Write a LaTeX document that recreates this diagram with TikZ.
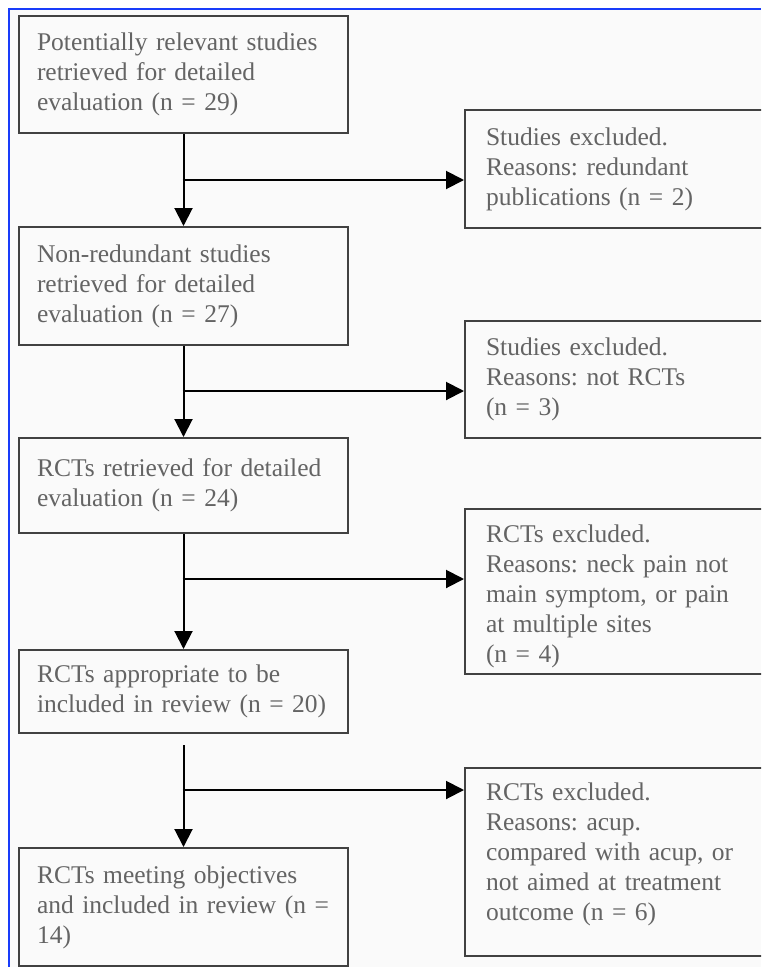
\documentclass[tikz,border=0pt]{standalone}
\usepackage{fontspec}
\setmainfont{Liberation Serif}
\usetikzlibrary{arrows.meta}
\definecolor{pagebg}{RGB}{250,250,250}
\definecolor{frameblue}{RGB}{25,60,250}
\definecolor{txtgray}{RGB}{100,100,100}
\definecolor{boxline}{RGB}{65,65,65}
\frenchspacing

\begin{document}
\begin{tikzpicture}[
  x=1pt, y=-1pt,
  font=\fontsize{25.5}{30}\selectfont,
  box/.style={rectangle, draw=boxline, line width=2pt, anchor=north west,
              align=left, text=txtgray, inner ysep=0pt},
  lft/.style={box, text width=293pt, inner xsep=18pt},
  rgt/.style={box, text width=262pt, inner xsep=21pt},
  arr/.style={-{Triangle[length=18pt,width=18pt]}, draw=black, line width=2pt}
]
\clip (0,0) rectangle (761,967);
\fill[white] (0,0) rectangle (761,967);
\fill[pagebg] (9,9) rectangle (761,967);
\draw[frameblue, line width=2.5pt] (9,967) -- (9,9) -- (761,9);

% main column
\node[lft, minimum height=117pt] (b1) at (18,15)
  {Potentially relevant studies\\retrieved for detailed\\evaluation (n = 29)};
\node[lft, minimum height=118pt] (b2) at (18,226)
  {Non-redundant studies\\retrieved for detailed\\evaluation (n = 27)};
\node[lft, minimum height=95pt] (b3) at (18,437)
  {RCTs retrieved for detailed\\evaluation (n = 24)};
\node[lft, minimum height=83pt] (b4) at (18,649)
  {RCTs appropriate to be\\included in review (n = 20)};
\node[lft, minimum height=118pt] (b5) at (18,847)
  {RCTs meeting objectives\\and included in review (n =\\14)};

% exclusions
\node[rgt, minimum height=118pt] (r1) at (464,109)
  {Studies excluded.\\Reasons: redundant\\publications (n = 2)};
\node[rgt, minimum height=117pt] (r2) at (464,320)
  {Studies excluded.\\Reasons: not RCTs\\(n = 3)};
\node[rgt, minimum height=165pt, text height=28pt] (r3) at (464,508)
  {RCTs excluded.\\Reasons: neck pain not\\main symptom, or pain\\at multiple sites\\(n = 4)};
\node[rgt, minimum height=188pt, text depth=140pt] (r4) at (464,767)
  {RCTs excluded.\\Reasons: acup.\\compared with acup, or\\not aimed at treatment\\outcome (n = 6)};

\coordinate (j1) at (182.5,180);
\coordinate (j2) at (182.5,391);
\coordinate (j3) at (182.5,579);
\coordinate (j4) at (182.5,790);

\draw[arr] (b1.south) -- (b2.north);
\draw[arr] (b2.south) -- (b3.north);
\draw[arr] (b3.south) -- (b4.north);
\draw[arr] ([yshift=-11pt]b4.south) -- (b5.north);

\draw[arr] (j1) -- (j1 -| r1.west);
\draw[arr] (j2) -- (j2 -| r2.west);
\draw[arr] (j3) -- (j3 -| r3.west);
\draw[arr] (j4) -- (j4 -| r4.west);
\end{tikzpicture}
\end{document}
